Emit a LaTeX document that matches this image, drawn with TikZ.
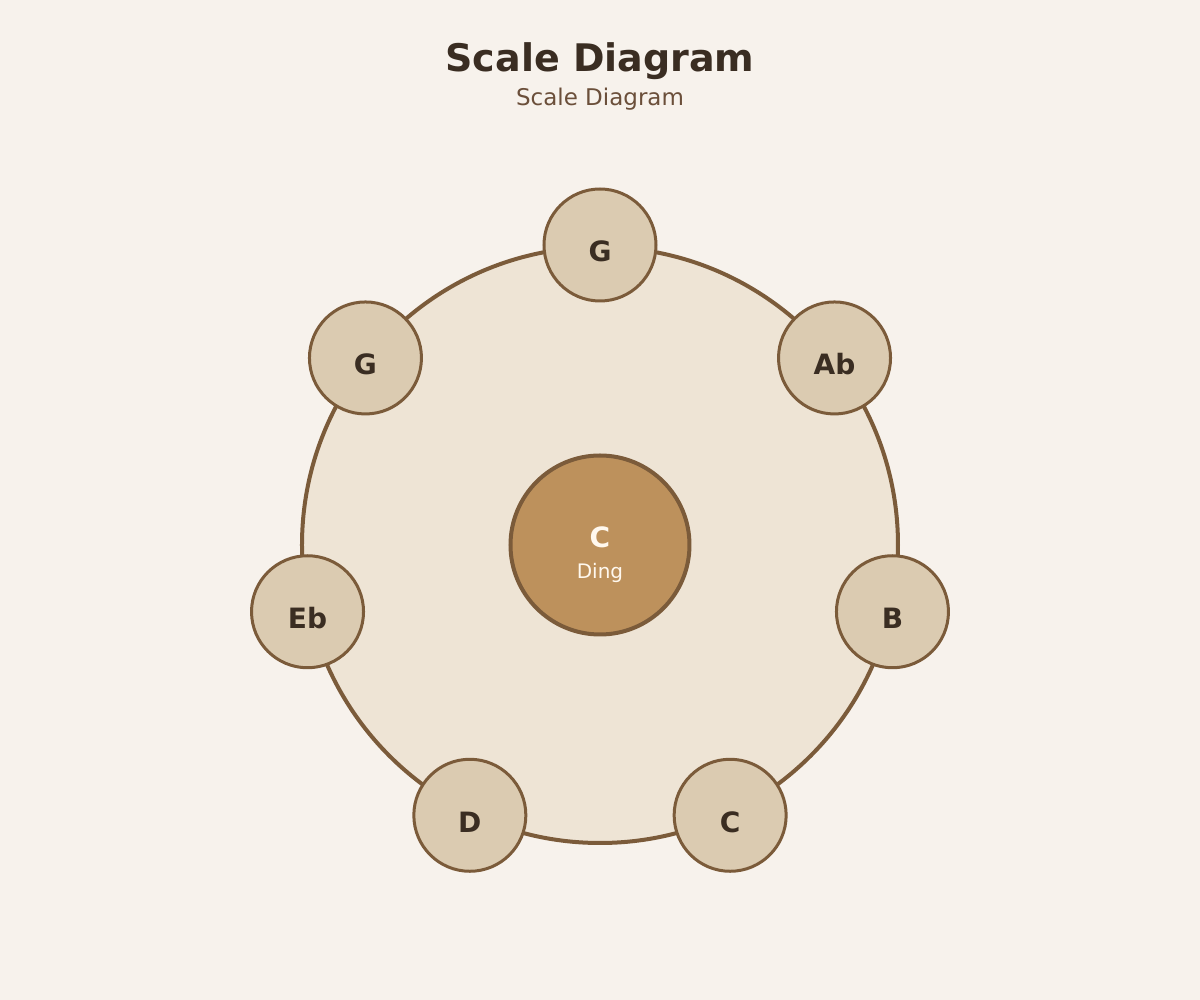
\documentclass[tikz,border=0pt]{standalone}
\usepackage{fontspec}
\setmainfont{DejaVu Sans}
\usetikzlibrary{positioning}
\definecolor{paper}{HTML}{F7F2EC}
\definecolor{shell}{HTML}{EEE4D5}
\definecolor{rim}{HTML}{7B5B3A}
\definecolor{field}{HTML}{DBCBB1}
\definecolor{dingfill}{HTML}{BD915C}
\definecolor{dark}{HTML}{3A2D22}
\definecolor{muted}{HTML}{6B4F3A}
\definecolor{cream}{HTML}{FFF8EE}
\tikzset{
    % Pan body
    panbody/.style={
        circle,
        minimum size=596pt,
        inner sep=0pt,
        draw=rim,
        fill=shell,
        line width=4pt
    },
    % Tone field style
    tonefield/.style={
        circle,
        minimum size=112pt,
        inner sep=0pt,
        draw=rim,
        fill=field,
        line width=3pt,
        text=dark,
        font=\fontsize{28}{30}\selectfont\bfseries,
        text height=34pt,
        text depth=0pt
    },
    % Central ding
    dingfield/.style={
        circle,
        minimum size=179pt,
        inner sep=0pt,
        draw=rim,
        fill=dingfill,
        line width=4pt
    },
    % Label styles
    title text/.style={
        font=\fontsize{38}{44}\selectfont\bfseries,
        text=dark,
        anchor=base,
        inner sep=0pt
    },
    subtitle text/.style={
        font=\fontsize{23}{26}\selectfont,
        text=muted,
        anchor=base,
        inner sep=0pt
    }
}
\begin{document}
\begin{tikzpicture}[x=1pt, y=1pt]

        % Background
        \fill[paper] (-600,545) rectangle (600,-455);
        \useasboundingbox (-600,545) rectangle (600,-455);

        % Titles
        \node[title text] (title) at (0,473) {Scale Diagram};
        \node[subtitle text] (subtitle) at (0,439) {Scale Diagram};

        % Pan
        \node[panbody] (pan) at (0,0) {};

        % Tone fields around the rim
        \node[tonefield] (tone1) at (90:300) {G};
        \node[tonefield] (tone2) at (38.571:300) {Ab};
        \node[tonefield] (tone3) at (-12.857:300) {B};
        \node[tonefield] (tone4) at (-64.286:300) {C};
        \node[tonefield] (tone5) at (-115.714:300) {D};
        \node[tonefield] (tone6) at (-167.143:300) {Eb};
        \node[tonefield] (tone7) at (141.429:300) {G};

        % Ding in the middle
        \node[dingfield] (ding) at (pan.center) {};
        \node[anchor=base, inner sep=0pt, text=cream, font=\fontsize{28}{30}\selectfont\bfseries] (dingname) at (0,-3) {C};
        \node[anchor=base, inner sep=0pt, text=cream, font=\fontsize{20}{22}\selectfont] (dinglabel) at (0,-34) {Ding};

    \end{tikzpicture}
\end{document}
